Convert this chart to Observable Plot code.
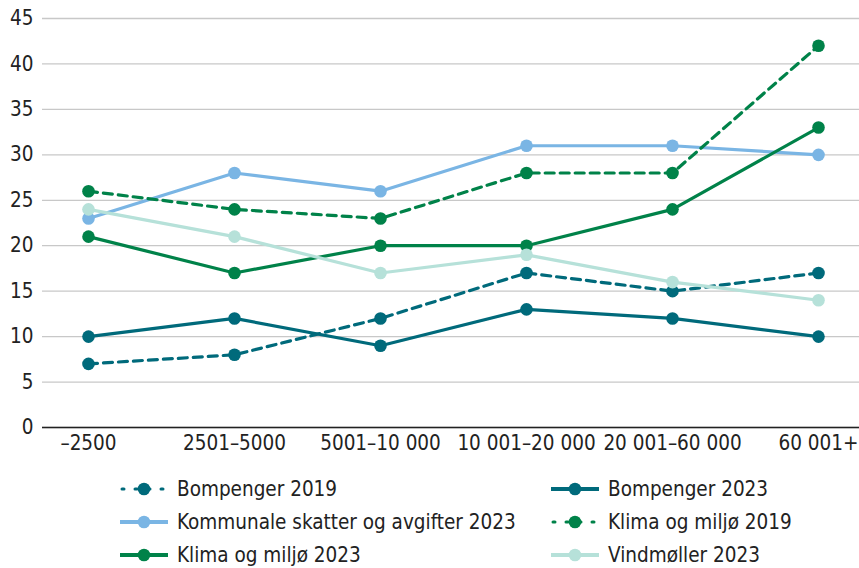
<!DOCTYPE html>
<html><head><meta charset="utf-8">
<script src="https://cdn.jsdelivr.net/npm/d3@7"></script>
<script src="https://cdn.jsdelivr.net/npm/@observablehq/plot@0.6"></script>
<style>
body{margin:0;background:#fff;font-family:"DejaVu Sans Condensed",sans-serif;color:#222;}
#legend{display:grid;grid-template-columns:431px 300px;margin-left:120px;margin-top:16px;row-gap:7px;font-size:20.5px;}
.item{display:flex;align-items:center;height:26px;}
.item svg{margin-right:9px;}
</style></head>
<body><div id="chart"></div><div id="legend"></div>
<script>
const categories = ["–2500","2501–5000","5001–10 000","10 001–20 000","20 001–60 000","60 001+"];
const seriesNames = ["Bompenger 2019","Bompenger 2023","Kommunale skatter og avgifter 2023","Klima og miljø 2019","Klima og miljø 2023","Vindmøller 2023"];
const bompenger2019 = [7, 8, 12, 17, 15, 17];
const bompenger2023 = [10, 12, 9, 13, 12, 10];
const kommunale2023 = [23, 28, 26, 31, 31, 30];
const klima2019 = [26, 24, 23, 28, 28, 42];
const klima2023 = [21, 17, 20, 20, 24, 33];
const vindmoller2023 = [24, 21, 17, 19, 16, 14];
const yTicks = [0,5,10,15,20,25,30,35,40,45];

const colors = ["#006a7b","#006a7b","#7ab5e4","#008249","#008249","#b6e1d9"];
const dashed = [true,false,false,true,false,false];
const values = [bompenger2019,bompenger2023,kommunale2023,klima2019,klima2023,vindmoller2023];

const data = [];
seriesNames.forEach((s,i)=>values[i].forEach((v,j)=>data.push({series:s,cat:categories[j],value:v})));

const marks = [
  Plot.gridY(yTicks,{stroke:"#c8c8c8",strokeOpacity:1,strokeWidth:1.3}),
  Plot.ruleY([0],{stroke:"#222",strokeWidth:1.5})
];
seriesNames.forEach((s,i)=>{
  const d = data.filter(r=>r.series===s);
  marks.push(Plot.line(d,{x:"cat",y:"value",stroke:colors[i],strokeWidth:3.2,strokeDasharray:dashed[i]?"9,6":null}));
  marks.push(Plot.dot(d,{x:"cat",y:"value",fill:colors[i],r:6.3}));
});

const chart = Plot.plot({
  width:859,height:460,
  marginLeft:42,marginRight:0,marginTop:18,marginBottom:33,
  style:{fontFamily:'"DejaVu Sans Condensed",sans-serif',fontSize:"20.5px",color:"#222",background:"#fff"},
  x:{type:"point",domain:categories,range:[88,818],padding:0,label:null,tickSize:0,tickPadding:8},
  y:{domain:[0,45],ticks:yTicks,label:null,tickSize:0,tickPadding:9},
  marks
});
document.getElementById("chart").appendChild(chart);

const legend = document.getElementById("legend");
seriesNames.forEach((s,i)=>{
  const div = document.createElement("div");
  div.className="item";
  const ns="http://www.w3.org/2000/svg";
  const svg=document.createElementNS(ns,"svg");
  svg.setAttribute("width",48);svg.setAttribute("height",16);
  const line=document.createElementNS(ns,"line");
  line.setAttribute("x1",dashed[i]?2:0);line.setAttribute("x2",48);line.setAttribute("y1",8);line.setAttribute("y2",8);
  line.setAttribute("stroke",colors[i]);line.setAttribute("stroke-width",dashed[i]?3:4);
  if(dashed[i]){line.setAttribute("stroke-dasharray","2,11");line.setAttribute("stroke-linecap","round");}
  const c=document.createElementNS(ns,"circle");
  c.setAttribute("cx",24);c.setAttribute("cy",8);c.setAttribute("r",6.3);c.setAttribute("fill",colors[i]);
  svg.appendChild(line);svg.appendChild(c);
  const t=document.createElement("span");t.textContent=s;
  div.appendChild(svg);div.appendChild(t);
  legend.appendChild(div);
});
</script></body></html>
